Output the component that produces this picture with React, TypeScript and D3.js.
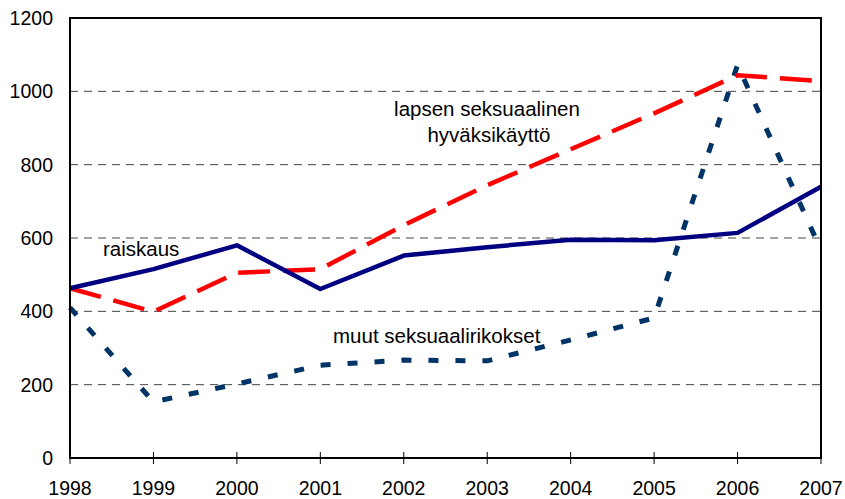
import React from "react";
import * as d3 from "d3";

// vuodet ja sarjat
const years = [1998, 1999, 2000, 2001, 2002, 2003, 2004, 2005, 2006, 2007];
const raiskaus = [463, 515, 580, 461, 552, 575, 595, 594, 614, 740];
const lapsen = [463, 399, 505, 515, 635, 744, 842, 940, 1044, 1028];
const muut = [410, 153, 202, 253, 267, 265, 322, 382, 1072, 567];
const yTicks = [0, 200, 400, 600, 800, 1000, 1200];

const W = 845;
const H = 499;
const left = 70;
const right = 821;
const top = 18;
const bottom = 458;

export default function App() {
  const x = d3.scaleLinear().domain([1998, 2007]).range([left, right]);
  const y = d3.scaleLinear().domain([0, 1200]).range([bottom, top]);

  const line = d3
    .line<number>()
    .x((d, i) => x(years[i]))
    .y((d) => y(d));

  const font = "Arial, 'Liberation Sans', sans-serif";

  return (
    <svg
      width={W}
      height={H}
      style={{ position: "absolute", left: 0, top: 0, background: "#fff" }}
      fontFamily={font}
    >
      {/* gridlines */}
      {yTicks
        .filter((t) => t > 0 && t < 1200)
        .map((t) => (
          <line
            key={t}
            x1={left}
            x2={right}
            y1={y(t)}
            y2={y(t)}
            stroke="#444"
            strokeWidth={1}
            strokeDasharray="8,6"
          />
        ))}

      {/* series */}
      <path d={line(muut) || ""} fill="none" stroke="#003366" strokeWidth={5} strokeDasharray="10,17" />
      <path d={line(lapsen) || ""} fill="none" stroke="#ff0000" strokeWidth={4.5} strokeDasharray="32,13" />
      <path d={line(raiskaus) || ""} fill="none" stroke="#000080" strokeWidth={4.5} strokeLinejoin="round" />

      {/* frame */}
      <rect x={left} y={top} width={right - left} height={bottom - top} fill="none" stroke="#000" strokeWidth={2} />

      {/* x ticks */}
      {years.map((yr) => (
        <g key={yr}>
          <line x1={x(yr)} x2={x(yr)} y1={bottom - 6} y2={bottom + 6} stroke="#000" strokeWidth={1} />
          <text x={x(yr)} y={495} textAnchor="middle" fontSize={19.5} fill="#000">
            {yr}
          </text>
        </g>
      ))}

      {/* y labels */}
      {yTicks.map((t) => (
        <text key={t} x={53} y={y(t) + 7} textAnchor="end" fontSize={19.5} fill="#000">
          {t}
        </text>
      ))}

      {/* series labels */}
      <text x={103} y={256} fontSize={20.5} fill="#000">raiskaus</text>
      <text x={487} y={116} textAnchor="middle" fontSize={20.5} fill="#000">lapsen seksuaalinen</text>
      <text x={489} y={142} textAnchor="middle" fontSize={20.5} fill="#000">hyväksikäyttö</text>
      <text x={333} y={343} fontSize={20.5} fill="#000">muut seksuaalirikokset</text>
    </svg>
  );
}
